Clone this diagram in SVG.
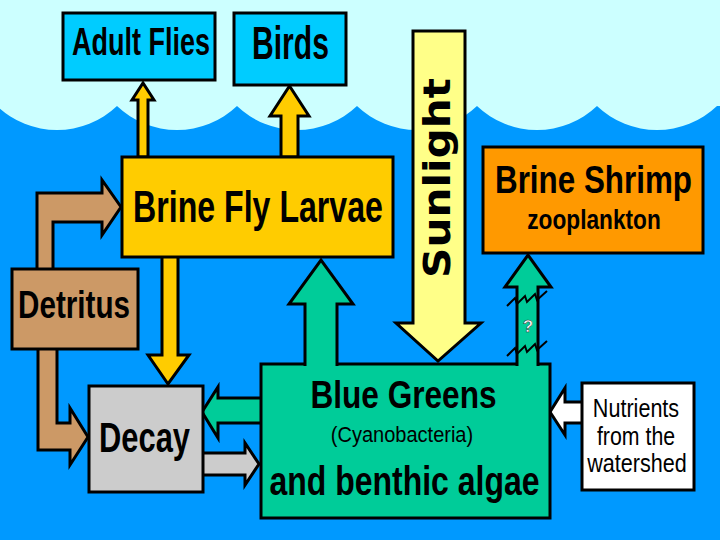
<svg xmlns="http://www.w3.org/2000/svg" width="720" height="540" viewBox="0 0 720 540">
<style>
.b{stroke:#000;stroke-width:3;stroke-linejoin:miter}
.t{font-family:"Liberation Sans",Arial,sans-serif;font-weight:bold;fill:#000;text-anchor:middle}
.r{font-family:"Liberation Sans",Arial,sans-serif;font-weight:normal;fill:#000;text-anchor:middle}
.yel{fill:#ffcc00}.grn{fill:#00cc99}.tan{fill:#cc9966}.gry{fill:#cccccc}.wht{fill:#ffffff}.cyn{fill:#00ccff}.org{fill:#ff9900}.sun{fill:#ffff88}
</style>
<rect x="0" y="0" width="720" height="540" fill="#0099ff"/>
<path d="M-3,0 L-3,106 A87,87 0 0 0 117,106 A87,87 0 0 0 237,106 A87,87 0 0 0 357,106 A87,87 0 0 0 477,106 A87,87 0 0 0 597,106 A87,87 0 0 0 717,106 L723,106 L723,0 Z" fill="#ccffff"/>

<g id="connectors">
<path class="b yel" d="M138,157 V100 H132 L143,83 L154,100 H148 V157 Z"/>
<path class="b yel" d="M281,157 V116 H270 L289.5,86 L309,116 H298 V157 Z"/>
<path class="b yel" d="M162,255 V355 H148 L168,384 L189,355 H178 V255 Z"/>
<path class="b tan" d="M37,270 V193 H102 V180 L121,207 L102,235 V222 H53 V270 Z"/>
<path class="b tan" d="M38,347 V450 H70 V465 L88,437 L70,408 V423 H57 V347 Z"/>
<path class="b grn" d="M262,398 H218 V387 L202,412 L218,438 V423 H262 Z"/>
<path class="b gry" d="M201,453 H245 V443 L259,464 L245,485 V475 H201 Z"/>
<path class="b wht" d="M584,402 H565 V388 L550,412 L565,435 V423 H584 Z"/>
</g>

<g id="adult-flies"><rect class="b cyn" x="63" y="13" width="152" height="67"/><text class="t" transform="translate(141,55) scale(0.71,1)" font-size="38">Adult Flies</text></g>
<g id="birds"><rect class="b cyn" x="234" y="13" width="112" height="72"/><text class="t" transform="translate(290.5,59) scale(0.655,1)" font-size="46">Birds</text></g>
<g id="brine-fly-larvae"><rect class="b yel" x="122" y="157" width="271" height="100"/><text class="t" transform="translate(258,222) scale(0.73,1)" font-size="44">Brine Fly Larvae</text></g>
<g id="brine-shrimp"><rect class="b org" x="483" y="147" width="220" height="106"/><text class="t" transform="translate(593.5,193) scale(0.805,1)" font-size="39">Brine Shrimp</text><text class="t" transform="translate(594,229) scale(0.81,1)" font-size="28">zooplankton</text></g>
<g id="detritus"><rect class="b tan" x="12" y="269" width="126" height="80"/><text class="t" transform="translate(74,318) scale(0.76,1)" font-size="39">Detritus</text></g>
<g id="decay"><rect class="b gry" x="89" y="386" width="114" height="106"/><text class="t" transform="translate(144.5,452) scale(0.735,1)" font-size="42">Decay</text></g>
<g id="nutrients"><rect class="b wht" x="582" y="383" width="112" height="107"/>
<text class="r" transform="translate(636,417) scale(0.83,1)" font-size="26">Nutrients</text>
<text class="r" transform="translate(636,445) scale(0.82,1)" font-size="26">from the</text>
<text class="r" transform="translate(637,472) scale(0.83,1)" font-size="26">watershed</text></g>
<g id="blue-greens"><rect class="b grn" x="261" y="364" width="289" height="154"/>
<path class="b grn" d="M305,366 V304 H289 L321,260 L353,304 H337 V366"/>
<path class="b grn" d="M517,366 V287 H505 L528,255 L551,287 H538 V366"/>
<path d="M507,306 L515,298 L517,304 L525,296 L527,302 L535,294 L537,300 L547,291" fill="none" stroke="#000" stroke-width="2"/>
<path d="M507,356 L515,348 L517,354 L525,346 L527,352 L535,344 L537,350 L547,341" fill="none" stroke="#000" stroke-width="2"/>
<text x="528" y="332" font-family="Liberation Sans,Arial,sans-serif" font-size="17" font-weight="bold" fill="#fff" stroke="#333" stroke-width="0.5" text-anchor="middle">?</text>
<text class="t" transform="translate(403.5,408) scale(0.81,1)" font-size="39">Blue Greens</text>
<text class="r" transform="translate(402,442) scale(0.91,1)" font-size="22">(Cyanobacteria)</text>
<text class="t" transform="translate(404.5,495) scale(0.78,1)" font-size="41">and benthic algae</text></g>
<g id="sunlight"><path class="b sun" d="M413,31 H465 V323 H481 L438,361 L396,323 H413 Z"/>
<text transform="translate(450,178) rotate(-90)" font-family="DejaVu Sans,Verdana,sans-serif" font-weight="bold" font-size="38" text-anchor="middle" textLength="200" lengthAdjust="spacingAndGlyphs" fill="#000">Sunlight</text></g>
</svg>
